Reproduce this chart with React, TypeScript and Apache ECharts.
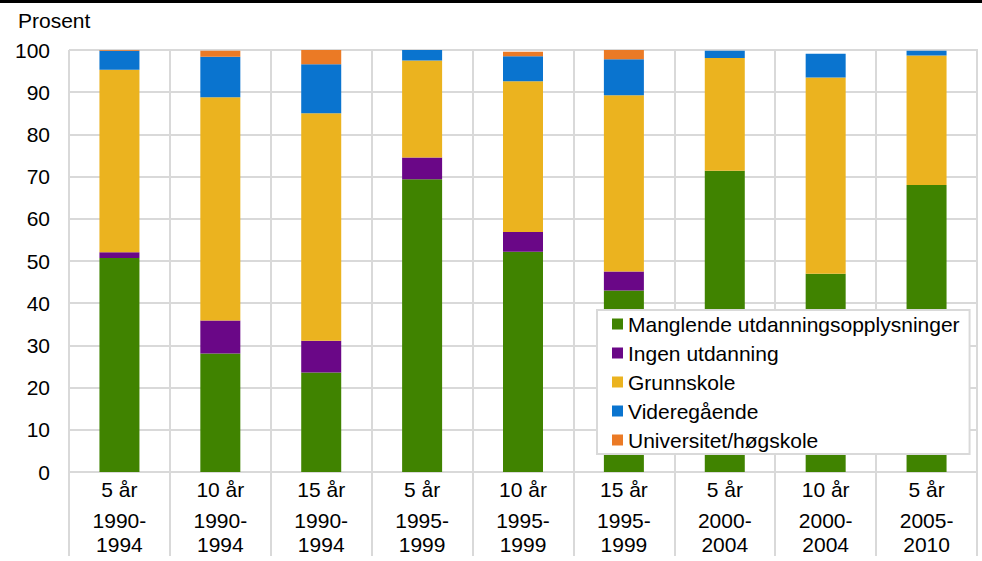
import React, { useEffect, useRef } from "react";
import * as echarts from "echarts";

const durations = ["5 år", "10 år", "15 år", "5 år", "10 år", "15 år", "5 år", "10 år", "5 år"];
const periods = ["1990-\n1994", "1990-\n1994", "1990-\n1994", "1995-\n1999", "1995-\n1999", "1995-\n1999", "2000-\n2004", "2000-\n2004", "2005-\n2010"];
const categories = durations.map((d, i) => d + "|" + periods[i]);

const seriesNames = [
  "Manglende utdanningsopplysninger",
  "Ingen utdanning",
  "Grunnskole",
  "Videregående",
  "Universitet/høgskole",
];
const manglende = [50.7, 28.1, 23.6, 69.4, 52.2, 43.0, 71.4, 47.0, 68.0];
const ingen = [1.4, 7.8, 7.5, 5.1, 4.7, 4.5, 0, 0, 0];
const grunnskole = [43.2, 52.9, 53.9, 23.0, 35.7, 41.8, 26.7, 46.5, 30.7];
const videregaende = [4.5, 9.6, 11.6, 2.5, 5.9, 8.5, 1.7, 5.6, 1.1];
const universitet = [0.2, 1.4, 3.4, 0, 1.1, 2.2, 0, 0, 0];
const colors = ["#408300", "#6a0787", "#ebb31f", "#0a74cf", "#eb7a25"];

const FONT = "Liberation Sans, Arial, sans-serif";
const GRID = "#d9d9d9";
const FS = 21;

export default function App() {
  const ref = useRef<HTMLDivElement>(null);
  useEffect(() => {
    if (!ref.current) return;
    const chart = echarts.init(ref.current, null, { renderer: "svg" });
    const values = [manglende, ingen, grunnskole, videregaende, universitet];
    chart.setOption({
      animation: false,
      textStyle: { fontFamily: FONT },
      grid: { left: 69, right: 5, top: 50, bottom: 89 },
      graphic: [
        { type: "rect", left: 0, top: 0, shape: { width: 982, height: 3 }, style: { fill: "#000" } },
        { type: "text", left: 18, top: 10, style: { text: "Prosent", font: `${FS}px ${FONT}`, fill: "#000" } },
        { type: "line", shape: { x1: 977, y1: 49, x2: 977, y2: 556 }, style: { stroke: GRID, lineWidth: 2 }, z: 1 },
      ],
      legend: {
        orient: "vertical",
        left: 597,
        top: 310,
        itemWidth: 11,
        itemHeight: 11,
        itemGap: 5,
        icon: "rect",
        padding: [2, 10, 2, 15],
        borderColor: GRID,
        borderWidth: 2,
        backgroundColor: "#fff",
        textStyle: { fontSize: FS, color: "#000", fontFamily: FONT, lineHeight: 24 },
        data: seriesNames,
      },
      xAxis: [
        {
          type: "category",
          data: categories,
          axisLine: { show: true, lineStyle: { color: GRID, width: 2 } },
          axisTick: { show: true, length: 84, interval: 0, lineStyle: { color: GRID, width: 2 } },
          splitLine: { show: true, interval: 0, lineStyle: { color: GRID, width: 2 } },
          axisLabel: {
            interval: 0,
            margin: 5,
            fontSize: FS,
            lineHeight: 24,
            color: "#000",
            fontFamily: FONT,
            formatter: (v: string) => v.split("|")[0],
          },
        },
        {
          type: "category",
          data: categories,
          position: "bottom",
          offset: 0,
          axisLine: { show: false },
          axisTick: { show: false },
          splitLine: { show: false },
          axisLabel: {
            interval: 0,
            margin: 36,
            fontSize: FS,
            lineHeight: 24.5,
            color: "#000",
            fontFamily: FONT,
            formatter: (v: string) => v.split("|")[1],
          },
        },
      ],
      yAxis: {
        type: "value",
        min: 0,
        max: 100,
        interval: 10,
        axisLine: { show: false },
        axisTick: { show: false },
        splitLine: { lineStyle: { color: GRID, width: 2 } },
        axisLabel: { fontSize: FS, color: "#000", margin: 19, fontFamily: FONT },
      },
      series: seriesNames.map((name, i) => ({
        name,
        type: "bar",
        stack: "total",
        barWidth: 40,
        xAxisIndex: 0,
        data: values[i],
        itemStyle: { color: colors[i] },
      })),
    });
    return () => chart.dispose();
  }, []);
  return (
    <div
      ref={ref}
      style={{ position: "fixed", left: 0, top: 0, width: 982, height: 561, background: "#fff" }}
    />
  );
}
